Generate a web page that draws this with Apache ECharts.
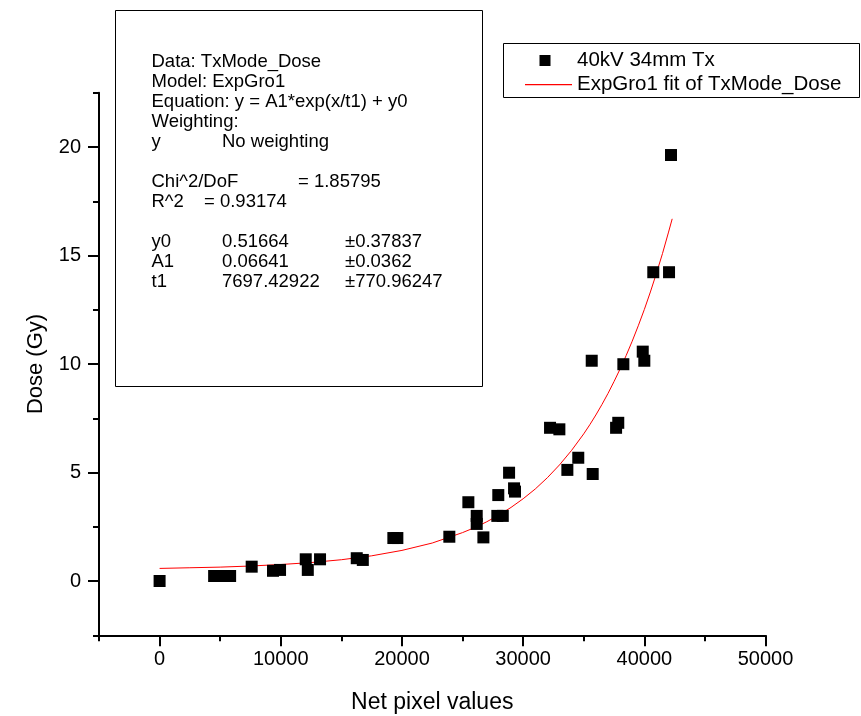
<!DOCTYPE html>
<html><head><meta charset="utf-8">
<script src="https://cdn.jsdelivr.net/npm/echarts@6/dist/echarts.min.js"></script>
<style>html,body{margin:0;padding:0;background:#fff}#c{width:861px;height:716px}</style>
</head><body><div id="c"></div>
<script>
// ---- data ----
const netPixel = [0, 4500, 5150, 5820, 7600, 9360, 9940, 12060, 12230, 13240, 16270, 16770, 19290, 19620,
  23910, 25480, 26170, 26170, 26720, 27950, 27870, 28320, 28840, 29250, 29330, 32220, 32990, 33650,
  34550, 35740, 35660, 37670, 37850, 38270, 39870, 40000, 40740, 42040, 42200];
const dose = [0, 0.23, 0.23, 0.23, 0.66, 0.47, 0.51, 1.0, 0.51, 1.0, 1.05, 0.97, 1.98, 1.98,
  2.04, 3.63, 3.0, 2.63, 2.01, 3.96, 3.0, 3.0, 4.99, 4.27, 4.12, 7.06, 6.99, 5.12,
  5.68, 4.93, 10.15, 7.06, 7.29, 9.99, 10.57, 10.15, 14.23, 14.23, 19.63];
// fitted curve (ExpGro1), sampled along the red line
const fitPixel = [0, 2500, 5000, 7500, 10000, 12500, 15000, 17500, 20000, 22500, 25000, 26000, 27000, 28000,
  29000, 30000, 31000, 32000, 33000, 34000, 35000, 35500, 36000, 36500, 37000, 37500, 38000, 38500, 39000,
  39500, 40000, 40500, 41000, 41500, 42000, 42300];
const fitDose = [0.58, 0.61, 0.64, 0.69, 0.76, 0.85, 0.98, 1.16, 1.41, 1.75, 2.23, 2.46, 2.73, 3.04,
  3.39, 3.79, 4.24, 4.76, 5.35, 6.02, 6.78, 7.20, 7.65, 8.13, 8.64, 9.19, 9.77, 10.39, 11.05,
  11.76, 12.51, 13.32, 14.18, 15.09, 16.08, 16.69];
const xMajorTicks = [0, 10000, 20000, 30000, 40000, 50000];
const yMajorTicks = [0, 5, 10, 15, 20];
const seriesNames = ['40kV 34mm Tx', 'ExpGro1 fit of TxMode_Dose'];
const infoLines = [
  ['Data: TxMode_Dose'],
  ['Model: ExpGro1'],
  ['Equation: y = A1*exp(x/t1) + y0'],
  ['Weighting:'],
  ['y', 'No weighting'],
  [],
  ['Chi^2/DoF', '= 1.85795'],
  ['R^2', '= 0.93174'],
  [],
  ['y0', '0.51664', '\u00b10.37837'],
  ['A1', '0.06641', '\u00b10.0362'],
  ['t1', '7697.42922', '\u00b1770.96247']
];

const FONT = '"Liberation Sans", Arial, sans-serif';
const chart = echarts.init(document.getElementById('c'), null, {renderer: 'canvas'});

// text box content
const textEls = [];
const colX = [151.5, 222, 345];
infoLines.forEach((row, i) => {
  row.forEach((t, j) => {
    let x = colX[j];
    if (row[0] === 'Chi^2/DoF' && j === 1) x = 298;
    if (row[0] === 'R^2' && j === 1) x = 204;
    textEls.push({type: 'text', silent: true, style: {
      text: t, x: x, y: 62 + i * 20, fill: '#000', fontSize: 18.5, fontFamily: FONT, verticalAlign: 'middle'}});
  });
});

const squareIcon = 'path://M0,0L0.001,0L0,0.001ZM14.5,0.5h11v11h-11zM47,12L46.999,12L47,11.999Z';
const lineIcon = 'path://M0,0L0.001,0L0,0.001ZM0,5.5h47v1.2h-47zM47,12L46.999,12L47,11.999Z';
const tickStyle = {color: '#000', width: 2};

// main plot area and helper areas used only for the longer major ticks
const G = {left: 99, right: 95.5, top: 92.75, bottom: 80.75};
const plotW = 861 - G.left - G.right, plotH = 716 - G.top - G.bottom;
const xMin = -5000, xMax = 50000, yMin = -2.5, yMax = 22.5;
const xZeroPx = G.left + (0 - xMin) / (xMax - xMin) * plotW;
const yTopMajorPx = G.top + (yMax - 20) / (yMax - yMin) * plotH;
const yZeroPx = G.top + (yMax - 0) / (yMax - yMin) * plotH;

const hidden = {show: false};
chart.setOption({
  animation: false,
  backgroundColor: '#fff',
  grid: [
    Object.assign({containLabel: false, outerBoundsMode: 'none'}, G),
    {left: xZeroPx, right: G.right, top: G.top, bottom: G.bottom, containLabel: false, outerBoundsMode: 'none'},
    {left: G.left, right: G.right, top: yTopMajorPx, bottom: 716 - yZeroPx, containLabel: false, outerBoundsMode: 'none'}
  ],
  xAxis: [{
    gridIndex: 0, type: 'value', min: xMin, max: xMax, interval: 5000, position: 'bottom',
    axisLine: {show: true, onZero: false, lineStyle: {color: '#000', width: 2}},
    axisTick: {show: true, length: 6, lineStyle: tickStyle},
    axisLabel: {color: '#000', fontSize: 20, fontFamily: FONT, margin: 14,
      formatter: v => xMajorTicks.includes(v) ? String(v) : ''},
    splitLine: {show: false},
    name: 'Net pixel values', nameLocation: 'middle', nameGap: 56,
    nameTextStyle: {color: '#000', fontSize: 23, fontFamily: FONT}
  }, {
    gridIndex: 1, type: 'value', min: 0, max: 50000, interval: 10000, position: 'bottom',
    axisLine: {show: false, onZero: false},
    axisTick: {show: true, length: 11, lineStyle: tickStyle},
    axisLabel: {show: false}, splitLine: {show: false}
  }, {
    gridIndex: 2, type: 'value', min: 0, max: 1, show: false
  }],
  yAxis: [{
    gridIndex: 0, type: 'value', min: yMin, max: yMax, interval: 2.5, position: 'left',
    axisLine: {show: true, onZero: false, lineStyle: {color: '#000', width: 2}},
    axisTick: {show: true, length: 6, lineStyle: tickStyle},
    axisLabel: {color: '#000', fontSize: 20, fontFamily: FONT, margin: 18,
      formatter: v => yMajorTicks.includes(v) ? String(v) : ''},
    splitLine: {show: false},
    name: 'Dose (Gy)', nameLocation: 'middle', nameGap: 52, nameRotate: 90,
    nameTextStyle: {color: '#000', fontSize: 22, fontFamily: FONT}
  }, {
    gridIndex: 1, type: 'value', min: 0, max: 1, show: false
  }, {
    gridIndex: 2, type: 'value', min: 0, max: 20, interval: 5, position: 'left',
    axisLine: {show: false, onZero: false},
    axisTick: {show: true, length: 11, lineStyle: tickStyle},
    axisLabel: {show: false}, splitLine: {show: false}
  }],
  legend: {
    orient: 'vertical', left: 525, top: 50, padding: 0, itemGap: 3,
    itemWidth: 47, itemHeight: 12,
    textStyle: {color: '#000', fontSize: 20.5, fontFamily: FONT},
    data: [{name: seriesNames[0], icon: squareIcon}, {name: seriesNames[1], icon: lineIcon}]
  },
  graphic: [
    {type: 'rect', silent: true, shape: {x: 115.5, y: 10.5, width: 367, height: 376},
      style: {fill: 'none', stroke: '#000', lineWidth: 1}},
    {type: 'rect', silent: true, shape: {x: 503.5, y: 43.5, width: 356, height: 54},
      style: {fill: 'none', stroke: '#000', lineWidth: 1}}
  ].concat(textEls),
  series: [{
    name: seriesNames[0], type: 'scatter', symbol: 'rect', symbolSize: 12,
    xAxisIndex: 0, yAxisIndex: 0,
    itemStyle: {color: '#000', opacity: 1},
    data: netPixel.map((x, i) => [x, dose[i]]), z: 3
  }, {
    name: seriesNames[1], type: 'line', symbol: 'none', smooth: false,
    xAxisIndex: 0, yAxisIndex: 0,
    lineStyle: {color: '#ff0000', width: 1}, itemStyle: {color: '#ff0000'},
    data: fitPixel.map((x, i) => [x, fitDose[i]]), z: 2
  }]
});
</script>
</body></html>
